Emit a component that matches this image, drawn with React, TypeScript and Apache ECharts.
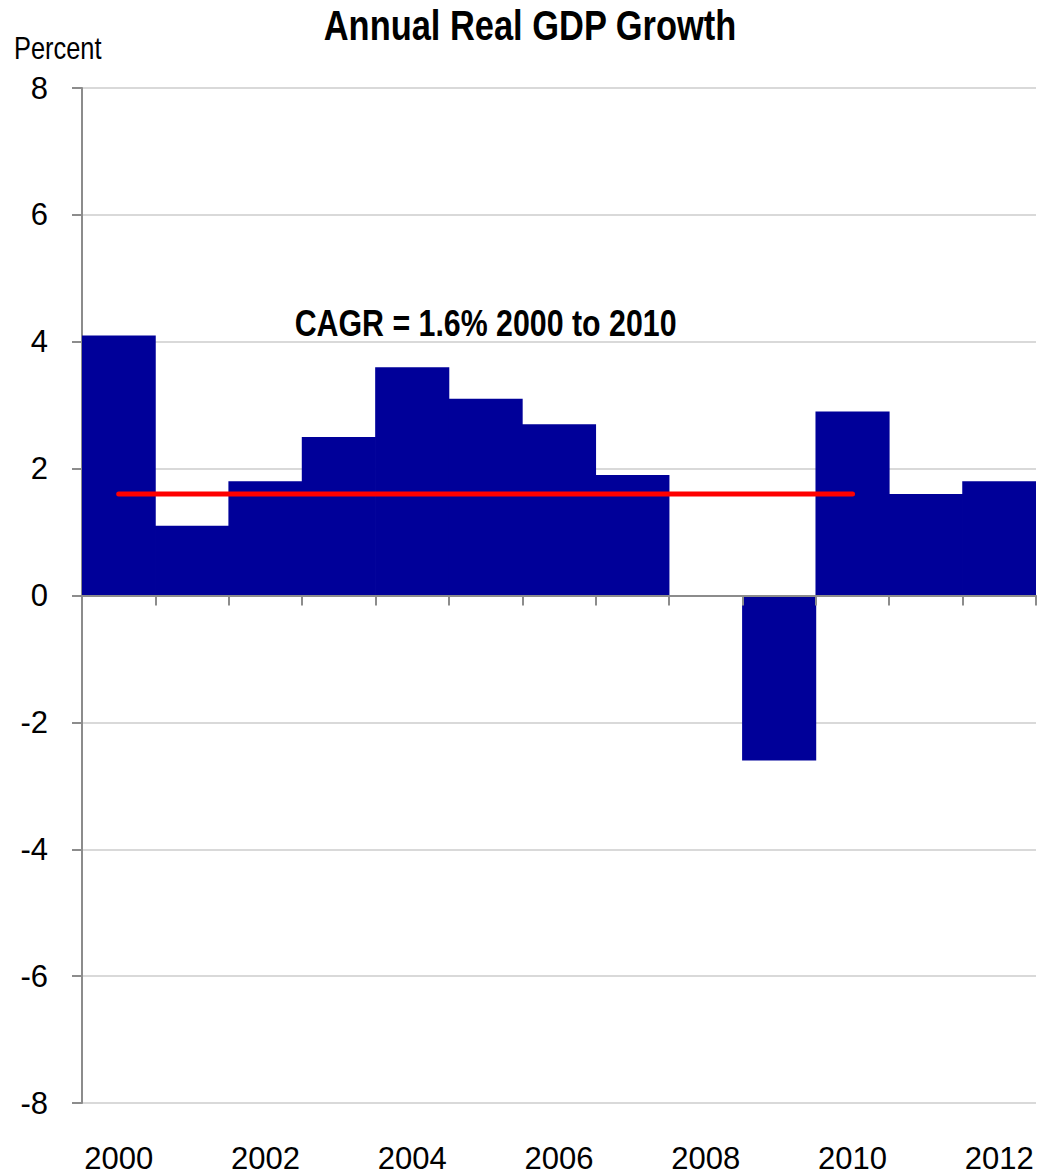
import React, { useEffect, useRef } from "react";
import * as echarts from "echarts";

const years = ["2000", "2001", "2002", "2003", "2004", "2005", "2006", "2007", "2008", "2009", "2010", "2011", "2012"];
const growth = [4.1, 1.1, 1.8, 2.5, 3.6, 3.1, 2.7, 1.9, 0, -2.6, 2.9, 1.6, 1.8];
const cagrValue = 1.6;
const cagrStart = "2000";
const cagrEnd = "2010";
const cagrLabel = "CAGR = 1.6% 2000 to 2010";
const cagrLabelAt: [string, number] = ["2005", 4.3];
const yMin = -8;
const yMax = 8;
const yStep = 2;

const FONT = "'Liberation Sans', Arial, sans-serif";
const AXIS_GRAY = "#8c8c8c";
const NARROW = 0.82;

export default function App() {
  const ref = useRef<HTMLDivElement>(null);
  useEffect(() => {
    if (!ref.current) return;
    const chart = echarts.init(ref.current, undefined, { renderer: "svg" });
    chart.setOption({
      animation: false,
      backgroundColor: "#ffffff",
      textStyle: { fontFamily: FONT },
      grid: { left: 82, right: 16, top: 88, bottom: 72, containLabel: false },
      xAxis: [
        {
          type: "category",
          data: years,
          position: "bottom",
          boundaryGap: true,
          z: 5,
          axisLine: { show: true, onZero: true, lineStyle: { color: AXIS_GRAY, width: 2 } },
          axisTick: { show: true, interval: 0, length: 10, lineStyle: { color: AXIS_GRAY, width: 2 } },
          axisLabel: { show: false },
          splitLine: { show: false },
        },
        {
          type: "category",
          data: years,
          position: "bottom",
          boundaryGap: true,
          axisLine: { show: false, onZero: false },
          axisTick: { show: false },
          axisLabel: { show: true, interval: 1, fontSize: 31, margin: 40, color: "#000", fontFamily: FONT },
          splitLine: { show: false },
        },
      ],
      yAxis: {
        type: "value",
        min: yMin,
        max: yMax,
        interval: yStep,
        axisLine: { show: true, lineStyle: { color: AXIS_GRAY, width: 2 } },
        axisTick: { show: true, length: 10, lineStyle: { color: AXIS_GRAY, width: 2 } },
        axisLabel: { fontSize: 31, margin: 34, color: "#000", fontFamily: FONT },
        splitLine: { show: true, lineStyle: { color: "#d9d9d9", width: 2 } },
      },
      series: [
        {
          type: "bar",
          xAxisIndex: 0,
          yAxisIndex: 0,
          data: growth,
          barWidth: "101%",
          barGap: "0%",
          itemStyle: { color: "#000099" },
          z: 2,
        },
        {
          type: "line",
          xAxisIndex: 0,
          yAxisIndex: 0,
          data: [
            [cagrStart, cagrValue],
            [cagrEnd, cagrValue],
          ],
          symbol: "none",
          lineStyle: { color: "#ff0000", width: 5, cap: "round" },
          z: 4,
        },
      ],
    });
    const pt = chart.convertToPixel({ xAxisIndex: 0, yAxisIndex: 0 }, cagrLabelAt) as number[];
    chart.setOption({
      graphic: [
        {
          id: "title",
          type: "text",
          x: 530,
          y: 25,
          scaleX: NARROW,
          style: {
            text: "Annual Real GDP Growth",
            fontFamily: FONT,
            fontSize: 42,
            fontWeight: "bold",
            fill: "#000",
            textAlign: "center",
            textVerticalAlign: "middle",
          },
        },
        {
          id: "unit",
          type: "text",
          x: 14,
          y: 48,
          scaleX: NARROW,
          style: {
            text: "Percent",
            fontFamily: FONT,
            fontSize: 31,
            fill: "#000",
            textAlign: "left",
            textVerticalAlign: "middle",
          },
        },
        {
          id: "cagr",
          type: "text",
          x: pt[0],
          y: pt[1],
          scaleX: NARROW,
          z: 10,
          style: {
            text: cagrLabel,
            fontFamily: FONT,
            fontSize: 37,
            fontWeight: "bold",
            fill: "#000",
            textAlign: "center",
            textVerticalAlign: "middle",
          },
        },
      ],
    });
    return () => chart.dispose();
  }, []);
  return <div ref={ref} style={{ width: 1052, height: 1175, position: "absolute", left: 0, top: 0 }} />;
}
